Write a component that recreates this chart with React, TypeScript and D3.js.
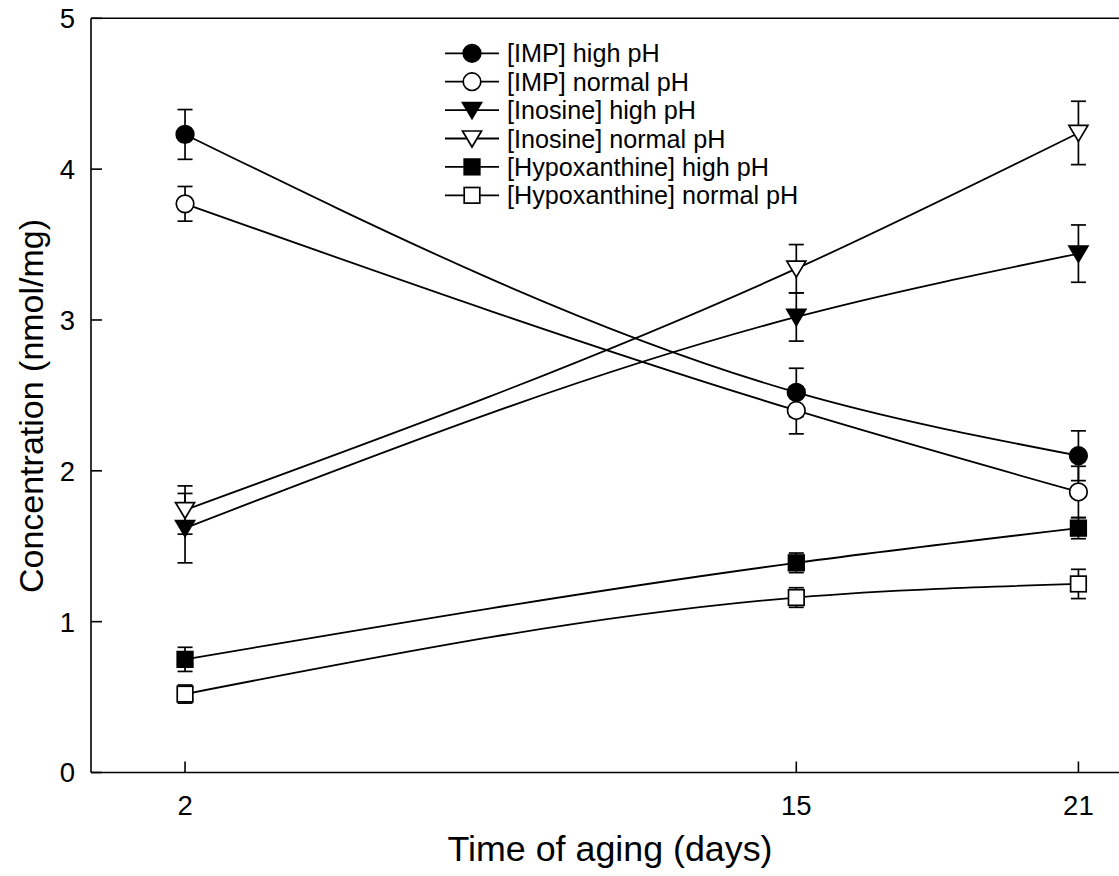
import React from "react";
import * as d3 from "d3";

const days = [2, 15, 21];
const xTicks = [2, 15, 21];
const yTicks = [0, 1, 2, 3, 4, 5];

const impHigh = [4.23, 2.52, 2.1];
const impHighErr = [0.165, 0.16, 0.165];
const impNormal = [3.77, 2.4, 1.86];
const impNormalErr = [0.115, 0.155, 0.17];
const inoHigh = [1.62, 3.02, 3.44];
const inoHighErr = [0.23, 0.16, 0.19];
const inoNormal = [1.74, 3.34, 4.24];
const inoNormalErr = [0.16, 0.16, 0.21];
const hypoHigh = [0.75, 1.39, 1.62];
const hypoHighErr = [0.08, 0.065, 0.07];
const hypoNormal = [0.52, 1.16, 1.25];
const hypoNormalErr = [0.06, 0.065, 0.097];

const seriesNames = [
  "[IMP] high pH",
  "[IMP] normal pH",
  "[Inosine] high pH",
  "[Inosine] normal pH",
  "[Hypoxanthine] high pH",
  "[Hypoxanthine] normal pH",
];

const series = [
  { name: seriesNames[0], values: impHigh, err: impHighErr, shape: "circle", filled: true },
  { name: seriesNames[1], values: impNormal, err: impNormalErr, shape: "circle", filled: false },
  { name: seriesNames[2], values: inoHigh, err: inoHighErr, shape: "tri", filled: true },
  { name: seriesNames[3], values: inoNormal, err: inoNormalErr, shape: "tri", filled: false },
  { name: seriesNames[4], values: hypoHigh, err: hypoHighErr, shape: "square", filled: true },
  { name: seriesNames[5], values: hypoNormal, err: hypoNormalErr, shape: "square", filled: false },
];

const W = 1119;
const H = 876;
const left = 91;
const top = 18.3;
const bottom = 772.5;
const font = "Arial, 'Liberation Sans', sans-serif";

const x = d3.scaleLinear().domain([0, 22]).range([left, left + 22 * 47.02]);
const y = d3.scaleLinear().domain([0, 5]).range([bottom, top]);

const Marker = ({ shape, filled, cx, cy }: any) => {
  const fill = filled ? "#000" : "#fff";
  const sw = 1.7;
  if (shape === "circle") {
    return <circle cx={cx} cy={cy} r={8.8} fill={fill} stroke="#000" strokeWidth={sw} />;
  }
  if (shape === "square") {
    return <rect x={cx - 7.8} y={cy - 7.8} width={15.6} height={15.6} fill={fill} stroke="#000" strokeWidth={sw} />;
  }
  const p = `M${cx - 9.5},${cy - 7.5}L${cx + 9.5},${cy - 7.5}L${cx},${cy + 8.5}Z`;
  return <path d={p} fill={fill} stroke="#000" strokeWidth={sw} strokeLinejoin="miter" />;
};

export default function App() {
  const line = d3
    .line<number>()
    .x((_, i) => x(days[i]))
    .y((d) => y(d))
    .curve(d3.curveMonotoneX);

  const capW = 7.5;

  return (
    <div style={{ position: "absolute", left: 0, top: 0 }}>
      <svg width={W} height={H} style={{ display: "block", background: "#fff" }} fontFamily={font}>
        {/* frame */}
        <g stroke="#000" strokeWidth={1.6} fill="none">
          <line x1={left} y1={top} x2={W} y2={top} />
          <line x1={left} y1={top} x2={left} y2={bottom} />
          <line x1={left} y1={bottom} x2={W} y2={bottom} />
          {yTicks.map((t) => (
            <line key={"yt" + t} x1={left} x2={left + 11} y1={y(t)} y2={y(t)} />
          ))}
          {xTicks.map((t) => (
            <line key={"xt" + t} x1={x(t)} x2={x(t)} y1={bottom} y2={bottom - 11} />
          ))}
        </g>
        {yTicks.map((t) => (
          <text key={"yl" + t} x={75} y={y(t)} dy="0.36em" textAnchor="end" fontSize={27.5}>
            {t}
          </text>
        ))}
        {xTicks.map((t) => (
          <text key={"xl" + t} x={x(t)} y={815} textAnchor="middle" fontSize={27.5}>
            {t}
          </text>
        ))}
        <text x={610} y={861} textAnchor="middle" fontSize={35.8}>
          Time of aging (days)
        </text>
        <text
          transform={`translate(43, 406) rotate(-90)`}
          textAnchor="middle"
          fontSize={34}
        >
          Concentration (nmol/mg)
        </text>

        {/* lines */}
        {series.map((s) => (
          <path key={"l" + s.name} d={line(s.values) || ""} fill="none" stroke="#000" strokeWidth={1.8} />
        ))}
        {/* error bars */}
        <g stroke="#000" strokeWidth={1.7}>
          {series.map((s) =>
            s.values.map((v, i) => {
              const cx = x(days[i]);
              const y1 = y(v + s.err[i]);
              const y2 = y(v - s.err[i]);
              return (
                <g key={"e" + s.name + i}>
                  <line x1={cx} x2={cx} y1={y1} y2={y2} />
                  <line x1={cx - capW} x2={cx + capW} y1={y1} y2={y1} />
                  <line x1={cx - capW} x2={cx + capW} y1={y2} y2={y2} />
                </g>
              );
            })
          )}
        </g>
        {/* markers */}
        {series.map((s) =>
          s.values.map((v, i) => (
            <Marker key={"m" + s.name + i} shape={s.shape} filled={s.filled} cx={x(days[i])} cy={y(v)} />
          ))
        )}

        {/* legend */}
        {series.map((s, i) => {
          const ly = 53.3 + i * 28.4;
          return (
            <g key={"lg" + s.name}>
              <line x1={445} x2={499} y1={ly} y2={ly} stroke="#000" strokeWidth={1.8} />
              <Marker shape={s.shape} filled={s.filled} cx={472} cy={ly} />
              <text x={507} y={ly} dy="0.36em" fontSize={25.2}>
                {s.name}
              </text>
            </g>
          );
        })}
      </svg>
    </div>
  );
}
